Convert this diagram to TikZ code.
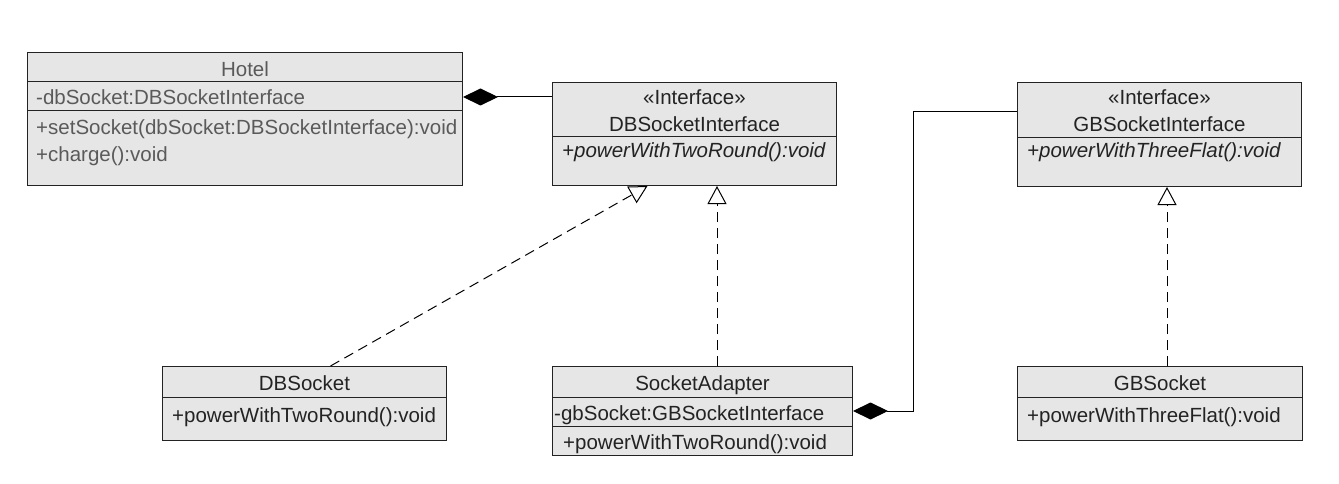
\documentclass[tikz,border=0pt]{standalone}
\usepackage{fontspec}
\setmainfont{Liberation Sans}
\usetikzlibrary{arrows.meta,positioning}
\definecolor{boxgray}{RGB}{230,230,230}
\definecolor{ink}{RGB}{35,35,35}
\definecolor{fadeink}{RGB}{90,90,90}

\begin{document}
\begin{tikzpicture}[x=1pt,y=-1pt,
  every node/.style={text=ink,font=\fontsize{20.5}{27}\selectfont},
  classbox/.style={draw=ink,fill=boxgray,line width=1pt,anchor=north west,inner sep=0pt},
  classname/.style={anchor=base,inner sep=0pt},
  member/.style={anchor=base west,inner sep=0pt},
  divider/.style={draw=ink,line width=1pt},
  compose/.style={{Diamond[length=35pt,width=17pt]}-,draw=black,line width=1pt},
  realize/.style={-{Triangle[open,length=18pt,width=19pt]},draw=black,line width=1pt,
    dash pattern=on 10pt off 6pt}]
  \useasboundingbox (0,0) rectangle (1339,484);

  % boxes
  \node[classbox,minimum width=435pt,minimum height=133pt] (hotel) at (27,52) {};
  \node[classbox,minimum width=284pt,minimum height=103pt] (dbsi) at (552,82) {};
  \node[classbox,minimum width=284pt,minimum height=104pt] (gbsi) at (1017,82) {};
  \node[classbox,minimum width=284pt,minimum height=74pt] (dbs) at (162,366) {};
  \node[classbox,minimum width=300pt,minimum height=89pt] (sa) at (552,366) {};
  \node[classbox,minimum width=285pt,minimum height=74pt] (gbs) at (1017,366) {};

  \draw[divider] (hotel.west |- 0,82) -- (hotel.east |- 0,82);
  \draw[divider] (hotel.west |- 0,111) -- (hotel.east |- 0,111);
  \draw[divider] (dbsi.west |- 0,137) -- (dbsi.east |- 0,137);
  \draw[divider] (gbsi.west |- 0,138) -- (gbsi.east |- 0,138);
  \draw[divider] (dbs.west |- 0,397) -- (dbs.east |- 0,397);
  \draw[divider] (sa.west |- 0,397) -- (sa.east |- 0,397);
  \draw[divider] (sa.west |- 0,426) -- (sa.east |- 0,426);
  \draw[divider] (gbs.west |- 0,397) -- (gbs.east |- 0,397);

  % Hotel
  \node[classname,text=fadeink] (hotel-name) at (hotel.north |- 0,77) {Hotel};
  \node[member,text=fadeink] (hotel-att) at (36,105) {-dbSocket:DBSocketInterface};
  \node[member,text=fadeink] (hotel-set) at (36,135) {+setSocket(dbSocket:DBSocketInterface):void};
  \node[member,text=fadeink] (hotel-charge) at (36,162) {+charge():void};

  % interfaces
  \node[classname] (dbsi-st) at (dbsi.north |- 0,105) {«Interface»};
  \node[classname] (dbsi-name) at (dbsi.north |- 0,132) {DBSocketInterface};
  \node[member] (dbsi-op) at (562,158) {\itshape +powerWithTwoRound():void};
  \node[classname] (gbsi-st) at (gbsi.north |- 0,105) {«Interface»};
  \node[classname] (gbsi-name) at (gbsi.north |- 0,132) {GBSocketInterface};
  \node[member] (gbsi-op) at (1027,158) {\itshape +powerWithThreeFlat():void};

  % sockets
  \node[classname] (dbs-name) at (dbs.north |- 0,390) {DBSocket};
  \node[member] (dbs-op) at (172,422) {+powerWithTwoRound():void};
  \node[classname] (sa-name) at (sa.north |- 0,390) {SocketAdapter};
  \node[member] (sa-att) at (554,420) {-gbSocket:GBSocketInterface};
  \node[member] (sa-op) at (563,449) {+powerWithTwoRound():void};
  \node[classname] (gbs-name) at (gbs.north |- 0,390) {GBSocket};
  \node[member] (gbs-op) at (1027,422) {+powerWithThreeFlat():void};

  % connectors
  \coordinate (bend) at (913,112);
  \draw[compose] (hotel.east |- 0,97) -- (dbsi.west |- 0,97);
  \draw[compose] (sa.east |- 0,411) -| (bend) -- (bend -| gbsi.west);
  \draw[realize] ([xshift=26pt]dbs.north) -- ([xshift=-47pt]dbsi.south);
  \draw[realize] (sa.north -| 717,0) -- (dbsi.south -| 717,0);
  \draw[realize] (gbs.north -| 1167,0) -- (gbsi.south -| 1167,0);
\end{tikzpicture}
\end{document}
